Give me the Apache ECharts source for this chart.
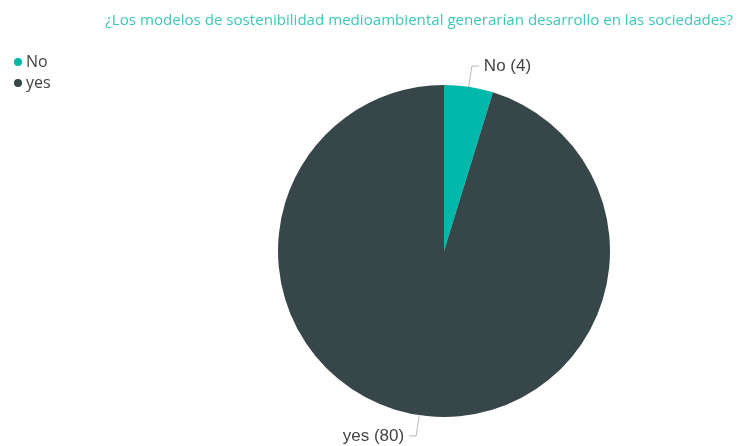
<!DOCTYPE html>
<html lang="en">
<head>
    <meta charset="UTF-8">
    <title>Pie</title>
    <style>
        body { margin: 0; background: #fff; }
        #main { width: 740px; height: 446px; }
    </style>
</head>
<body>
    <div id="main"></div>
    <script src="https://cdn.jsdelivr.net/npm/echarts@6/dist/echarts.min.js"></script>
    <script>
        var categories = ['No', 'yes'];
        var values = [4, 80];
        var colors = ['#01B8AA', '#374649'];

        var chart = echarts.init(document.getElementById('main'));
        var option = {
            title: {
                text: '¿Los modelos de sostenibilidad medioambiental generarían desarrollo en las sociedades?',
                right: 2,
                top: 8,
                textStyle: {
                    color: '#3CC8B9',
                    fontSize: 15.1,
                    fontWeight: 'normal',
                    fontFamily: 'Open Sans'
                }
            },
            legend: {
                orient: 'vertical',
                left: 9,
                top: 49,
                icon: 'circle',
                itemWidth: 8,
                itemHeight: 8,
                itemGap: 5,
                textStyle: { fontSize: 16, color: '#444', fontFamily: 'Open Sans', padding: [0, 0, 0, -1] },
                data: categories
            },
            series: [{
                type: 'pie',
                center: [444, 251],
                radius: 166,
                startAngle: 90,
                clockwise: true,
                data: categories.map(function (c, i) {
                    return { name: c, value: values[i], itemStyle: { color: colors[i] } };
                }),
                label: {
                    formatter: '{b} ({c})',
                    fontSize: 17,
                    color: '#444',
                    fontFamily: 'Liberation Sans',
                    padding: [4, 0, 0, 0]
                },
                labelLine: {
                    length: 21,
                    length2: 7,
                    lineStyle: { color: '#bbb', width: 1 }
                },
                emphasis: { scale: false }
            }]
        };
        chart.setOption(option);
    </script>
</body>
</html>
